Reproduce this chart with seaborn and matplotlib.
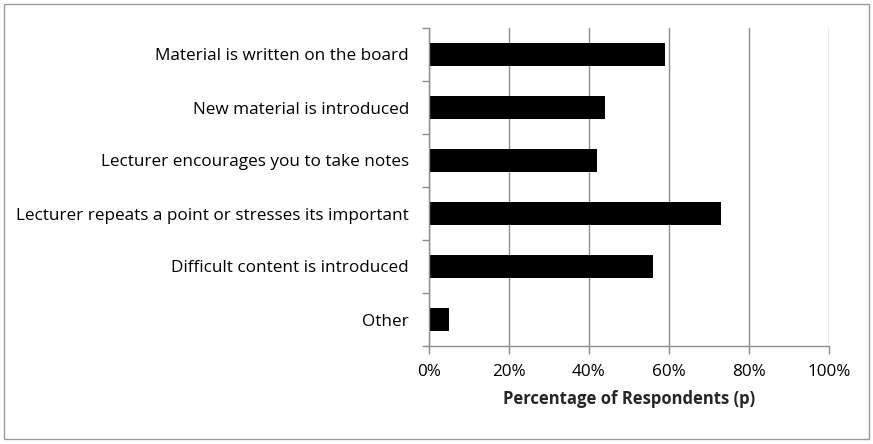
import numpy as np
import pandas as pd
import matplotlib
matplotlib.use("Agg")
import matplotlib.pyplot as plt
import seaborn as sns
from matplotlib.patches import Rectangle
from matplotlib.ticker import FixedLocator, PercentFormatter

categories = [
    "Material is written on the board",
    "New material is introduced",
    "Lecturer encourages you to take notes",
    "Lecturer repeats a point or stresses its important",
    "Difficult content is introduced",
    "Other",
]
percent = [59, 44, 42, 73, 56, 5]
xticks = [0, 20, 40, 60, 80, 100]

df = pd.DataFrame({"Category": categories, "Percent": percent})

sns.set_theme(style="white")
plt.rcParams["font.family"] = ["Open Sans", "DejaVu Sans"]

fig = plt.figure(figsize=(8.73, 4.44), dpi=100)
ax = fig.add_axes([429 / 873, 1 - 346 / 444, 400 / 873, 318 / 444])

sns.barplot(data=df, x="Percent", y="Category", color="black", width=0.42,
            saturation=1, ax=ax, edgecolor="none")

ax.set_xlim(0, 100)
ax.set_ylim(len(categories) - 0.5, -0.5)
ax.set_xticks(xticks)
ax.xaxis.set_major_formatter(PercentFormatter(decimals=0))
ax.grid(axis="x", color="#8c8c8c", linewidth=1)
ax.set_axisbelow(True)

ax.yaxis.set_minor_locator(FixedLocator(np.arange(-0.5, len(categories), 1)))
ax.tick_params(axis="y", which="major", length=0, pad=14.5, labelsize=12.3, colors="black")
ax.tick_params(axis="y", which="minor", left=True, length=5, width=1, color="#8c8c8c")
ax.tick_params(axis="x", which="major", bottom=True, length=6, width=1, color="#8c8c8c",
               labelsize=12.3, pad=7, labelcolor="black")

for s in ["top", "right"]:
    ax.spines[s].set_visible(False)
for s in ["left", "bottom"]:
    ax.spines[s].set_color("#8c8c8c")
    ax.spines[s].set_linewidth(1)

ax.set_ylabel("")
ax.set_xlabel("Percentage of Respondents (p)", fontsize=12, fontweight="bold", labelpad=7)

fig.patches.append(Rectangle((4 / 873, 5 / 444), 865 / 873, 435 / 444, transform=fig.transFigure,
                             fill=False, edgecolor="#9a9a9a", linewidth=1))

fig.savefig("out.png", dpi=100)
